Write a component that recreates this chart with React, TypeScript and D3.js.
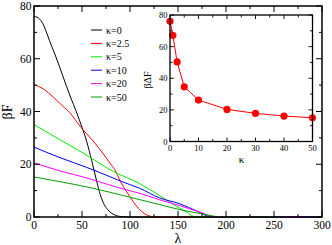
import React from "react";
import * as d3 from "d3";

const lam0 = [0, 3, 6, 9, 12, 16, 22, 30, 38, 44, 50, 55, 60, 65, 69, 73, 77, 81, 86, 92, 98, 300];
const f0 = [76, 75.8, 75, 73.5, 71, 67, 61.5, 53.5, 45.5, 40, 34, 28.5, 21.5, 14, 8.5, 4.8, 2.7, 1.4, 0.5, 0.1, 0, 0];
const lam25 = [0, 3, 6, 10, 20, 30, 37.5, 42.7, 50, 60, 70, 80, 84, 90, 96.5, 103, 109, 115, 121, 128, 300];
const f25 = [50, 49.8, 49.3, 48.5, 45.5, 42, 39.5, 37, 33.5, 29.5, 25, 20, 18, 13.5, 9.6, 6, 3.2, 1.3, 0.3, 0, 0];
const lam5 = [0, 27, 50, 83, 110, 130, 152, 160, 168, 300];
const f5 = [35, 29.3, 24.5, 17.2, 12.7, 8.3, 3.3, 1.6, 0, 0];
const lam10 = [0, 27, 55, 79, 91, 110, 131, 152, 170, 185, 300];
const f10 = [26.5, 22.5, 18.8, 15.3, 13.5, 10.9, 7.2, 5.0, 2.2, 0, 0];
const lam20 = [0, 27, 55, 79, 94, 110, 131, 152, 170, 190, 285];
const f20 = [20.5, 17.5, 14.8, 12.1, 10.5, 9.0, 6.5, 4.3, 2.2, 0, 0];
const lam50 = [0, 27, 55, 79, 102, 131, 152, 175, 196, 260];
const f50 = [15.2, 13.4, 11.4, 9.4, 7.3, 4.7, 2.8, 1.2, 0, 0];

const seriesLabels = ["κ=0", "κ=2.5", "κ=5", "κ=10", "κ=20", "κ=50"];
const seriesColors = ["#000000", "#ff0000", "#00ee00", "#0000ff", "#ff00ff", "#00a000"];
const seriesX = [lam0, lam25, lam5, lam10, lam20, lam50];
const seriesY = [f0, f25, f5, f10, f20, f50];

const kappa = [0, 1, 2.5, 5, 10, 20, 30, 40, 50];
const dF = [76, 67.2, 50.3, 34.6, 26.2, 20.3, 17.8, 16.1, 15];

const xTicks = [0, 50, 100, 150, 200, 250, 300];
const yTicks = [0, 20, 40, 60, 80];
const insetXTicks = [0, 10, 20, 30, 40, 50];
const insetYTicks = [0, 20, 40, 60, 80];

const FONT = "'Liberation Serif', 'DejaVu Serif', serif";

export default function App() {
  const x = d3.scaleLinear().domain([0, 300]).range([34, 322]);
  const y = d3.scaleLinear().domain([0, 80]).range([217, 6]);
  const ix = d3.scaleLinear().domain([0, 50]).range([170, 312.5]);
  const iy = d3.scaleLinear().domain([0, 80]).range([141.5, 15]);

  const line = d3
    .line<[number, number]>()
    .x((d) => x(d[0]))
    .y((d) => y(d[1]))
    .curve(d3.curveMonotoneX);

  const iline = d3
    .line<[number, number]>()
    .x((d) => ix(d[0]))
    .y((d) => iy(d[1]));

  const xMinor = d3.range(0, 301, 25);
  const yMinor = d3.range(0, 81, 10);
  const ixMinor = d3.range(0, 51, 5);
  const iyMinor = d3.range(0, 81, 10);

  const [x0, x1] = x.range();
  const [y0, y1] = y.range();
  const [ix0, ix1] = ix.range();
  const [iy0, iy1] = iy.range();

  return (
    <svg
      width={332}
      height={245}
      style={{ position: "fixed", left: 0, top: 0, background: "#fff" }}
      fontFamily={FONT}
    >
      <rect x={0} y={0} width={332} height={245} fill="#fff" />
      <defs>
        <clipPath id="clipMain">
          <rect x={x0} y={y1} width={x1 - x0} height={y0 - y1 + 1} />
        </clipPath>
      </defs>
      <g clipPath="url(#clipMain)">
        {seriesX.map((xs, i) => (
          <path
            key={i}
            d={line(xs.map((v, j) => [v, seriesY[i][j]] as [number, number])) || ""}
            fill="none"
            stroke={seriesColors[i]}
            strokeWidth={1}
          />
        ))}
      </g>
      <rect x={x0} y={y1} width={x1 - x0} height={y0 - y1} fill="none" stroke="#000" strokeWidth={1.5} />
      {xMinor.map((v) => {
        const major = v % 50 === 0;
        const len = major ? 6 : 3;
        return (
          <g key={"xt" + v} stroke="#000" strokeWidth={1}>
            <line x1={x(v)} x2={x(v)} y1={y0} y2={y0 - len} />
            <line x1={x(v)} x2={x(v)} y1={y1} y2={y1 + len} />
          </g>
        );
      })}
      {yMinor.map((v) => {
        const major = v % 20 === 0;
        const len = major ? 6 : 3;
        return (
          <g key={"yt" + v} stroke="#000" strokeWidth={1}>
            <line x1={x0} x2={x0 + len} y1={y(v)} y2={y(v)} />
            <line x1={x1} x2={x1 - len} y1={y(v)} y2={y(v)} />
          </g>
        );
      })}
      {xTicks.map((v) => (
        <text key={"xl" + v} x={x(v)} y={229} fontSize={11.5} textAnchor="middle" fill="#000">
          {v}
        </text>
      ))}
      {yTicks.map((v) => (
        <text key={"yl" + v} x={31.5} y={y(v) + 4} fontSize={11.5} textAnchor="end" fill="#000">
          {v}
        </text>
      ))}
      <text x={178} y={243} fontSize={14} textAnchor="middle" fill="#000">
        λ
      </text>
      <text
        transform={`translate(12,${112}) rotate(-90)`}
        fontSize={14}
        textAnchor="middle"
        fill="#000"
      >
        βF
      </text>
      {seriesLabels.map((lab, i) => {
        const ly = 30 + i * 13.4;
        return (
          <g key={"lg" + i}>
            <line x1={91} x2={102} y1={ly} y2={ly} stroke={seriesColors[i]} strokeWidth={1} />
            <text x={106} y={ly + 3.5} fontSize={10} fill="#000">
              {lab}
            </text>
          </g>
        );
      })}
      <rect x={ix0} y={iy1} width={ix1 - ix0} height={iy0 - iy1} fill="#fff" />
      <path
        d={iline(kappa.map((k, j) => [k, dF[j]] as [number, number])) || ""}
        fill="none"
        stroke="#ff0000"
        strokeWidth={1}
      />
      {kappa.map((k, j) => (
        <circle key={"pt" + j} cx={ix(k)} cy={iy(dF[j])} r={3.6} fill="#ff0000" />
      ))}
      <rect x={ix0} y={iy1} width={ix1 - ix0} height={iy0 - iy1} fill="none" stroke="#000" strokeWidth={1.3} />
      {ixMinor.map((v) => {
        const major = v % 10 === 0;
        const len = major ? 4 : 2.5;
        return (
          <g key={"ixt" + v} stroke="#000" strokeWidth={0.9}>
            <line x1={ix(v)} x2={ix(v)} y1={iy0} y2={iy0 - len} />
            <line x1={ix(v)} x2={ix(v)} y1={iy1} y2={iy1 + len} />
          </g>
        );
      })}
      {iyMinor.map((v) => {
        const major = v % 20 === 0;
        const len = major ? 4 : 2.5;
        return (
          <g key={"iyt" + v} stroke="#000" strokeWidth={0.9}>
            <line x1={ix0} x2={ix0 + len} y1={iy(v)} y2={iy(v)} />
            <line x1={ix1} x2={ix1 - len} y1={iy(v)} y2={iy(v)} />
          </g>
        );
      })}
      {insetXTicks.map((v) => (
        <text key={"ixl" + v} x={ix(v)} y={151} fontSize={8.5} textAnchor="middle" fill="#000">
          {v}
        </text>
      ))}
      {insetYTicks.map((v) => (
        <text key={"iyl" + v} x={167.5} y={iy(v) + 3} fontSize={8.5} textAnchor="end" fill="#000">
          {v}
        </text>
      ))}
      <text x={241.5} y={163} fontSize={11} textAnchor="middle" fill="#000">
        κ
      </text>
      <text
        transform={`translate(151,${80}) rotate(-90)`}
        fontSize={10}
        textAnchor="middle"
        fill="#000"
      >
        βΔF
      </text>
    </svg>
  );
}
